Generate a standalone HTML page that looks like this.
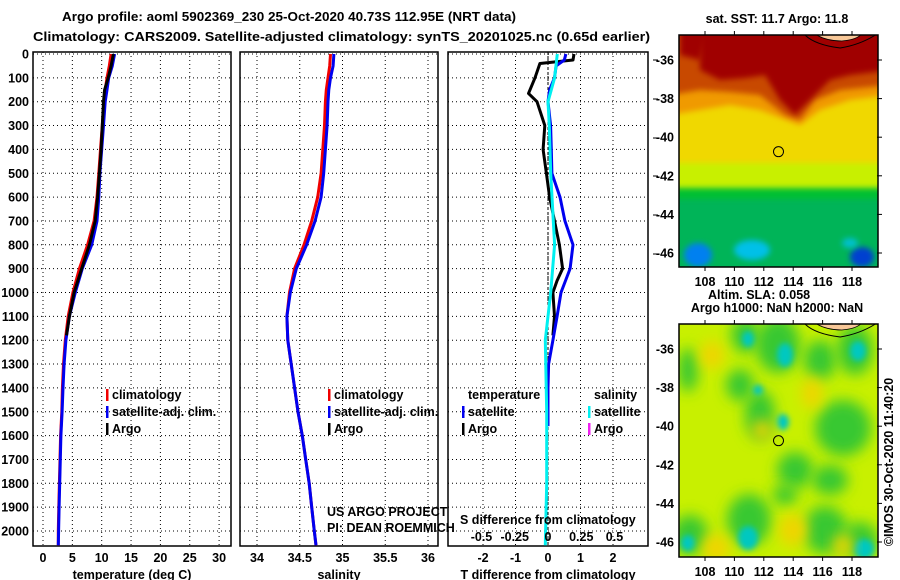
<!DOCTYPE html>
<html><head><meta charset="utf-8"><style>
html,body{margin:0;padding:0;background:#fff}
svg{display:block}
text{font-family:"Liberation Sans",sans-serif;font-weight:bold;font-size:12.5px;fill:#000}
</style></head><body>
<svg id="fig" width="900" height="580" viewBox="0 0 900 580">
<defs>
<filter id="bl" x="-50%" y="-50%" width="200%" height="200%"><feGaussianBlur stdDeviation="7"/></filter>
<filter id="bl2" x="-50%" y="-50%" width="200%" height="200%"><feGaussianBlur stdDeviation="3"/></filter>
<clipPath id="m1c"><rect x="679" y="35" width="199" height="232"/></clipPath>
<clipPath id="m2c"><rect x="679" y="324" width="199" height="233"/></clipPath>
</defs>
<text x="62" y="21" font-size="14" textLength="454" lengthAdjust="spacingAndGlyphs">Argo profile: aoml 5902369_230 25-Oct-2020 40.73S 112.95E (NRT data)</text>
<text x="33" y="41" font-size="14" textLength="617" lengthAdjust="spacingAndGlyphs">Climatology: CARS2009. Satellite-adjusted climatology: synTS_20201025.nc (0.65d earlier)</text>
<g id="panels"></g>
<g id="maps"></g>
</svg>
<script>
// ---- data ----
const depths = [0,50,100,150,200,300,400,500,600,700,800,900,1000,1100,1200,1300,1400,1500,1600,1700,1800,1900,2000,2060];
const tempClim = [11.6,11.3,10.9,10.6,10.4,10.1,9.8,9.5,9.2,8.7,7.6,6.2,5.1,4.3,3.8,3.5,3.3,3.2,3.0,2.9,2.8,2.7,2.6,2.6];
const tempSat = [12.2,11.8,11.2,10.9,10.6,10.3,10.0,9.7,9.5,9.2,8.3,6.7,5.5,4.5,3.9,3.6,3.4,3.25,3.05,2.95,2.85,2.75,2.65,2.6];
const argoDepths = [0,50,100,150,200,300,400,500,600,700,800,900,1000,1100,1180];
const tempArgo = [12.0,11.6,11.1,10.5,10.3,10.1,9.9,9.6,9.3,8.9,7.9,6.6,5.3,4.5,4.0];
const salClim = [34.86,34.85,34.83,34.81,34.80,34.79,34.77,34.75,34.71,34.64,34.55,34.44,34.38,34.35,34.36,34.40,34.44,34.48,34.53,34.57,34.61,34.64,34.67,34.69];
const salSat = [34.90,34.89,34.86,34.84,34.83,34.82,34.80,34.78,34.75,34.68,34.58,34.46,34.39,34.35,34.36,34.40,34.44,34.48,34.53,34.57,34.61,34.64,34.67,34.69];
const tdiffDepths = [0,25,40,100,165,200,300,400,500,600,700,800,900,950,1000,1100,1180];
const tdiffArgo = [0.8,0.77,-0.25,-0.4,-0.6,-0.34,-0.1,-0.15,-0.05,0.05,0.2,0.35,0.45,0.28,0.15,0.2,0.15];
const satDiffDepths = [0,25,50,100,150,200,300,400,500,600,700,800,900,1000,1100,1200,1300,1400,1560];
const tdiffSat = [0.55,0.5,0.25,0.2,0.05,0,0.08,0.1,0.12,0.37,0.52,0.77,0.68,0.4,0.28,0.15,0.02,0.0,0.0];
const sdiffDepths = [0,100,200,300,500,800,1000,1100,1200,1500,1800,2060];
const sdiffSat = [0.07,0.05,0,0.01,0.02,0.05,0.02,0,-0.02,-0.01,-0.01,-0.02];
const depthTicks = [0,100,200,300,400,500,600,700,800,900,1000,1100,1200,1300,1400,1500,1600,1700,1800,1900,2000];
const tempTicks = [0,5,10,15,20,25,30];
const salTicks = [34,34.5,35,35.5,36];
const tdTicks = [-2,-1,0,1,2];
const sdTicks = [-0.5,-0.25,0,0.25,0.5];
const latTicks = [-36,-38,-40,-42,-44,-46];
const lonTicks = [108,110,112,114,116,118];

const NS='http://www.w3.org/2000/svg';
function mk(tag,attrs,parent,txt){const e=document.createElementNS(NS,tag);for(const k in attrs)e.setAttribute(k,attrs[k]);if(txt!==undefined)e.textContent=txt;(parent||document.getElementById('fig')).appendChild(e);return e;}
const Y=d=>54+d*0.2385;
const PT=52, PB=546;
const panelsG=document.getElementById('panels');

function panel(name,x0,x1,sx,ticks,fmt,title){
  const g=mk('g',{},panelsG);
  
  
  depthTicks.forEach(d=>{const l=mk('line',{x1:x0,x2:x1,y1:Y(d),y2:Y(d),stroke:'#000','stroke-width':1,'stroke-dasharray':'1,3'},g);
    
    });
  ticks.forEach(t=>{const l=mk('line',{x1:sx(t),x2:sx(t),y1:PT,y2:PB,stroke:'#000','stroke-width':1,'stroke-dasharray':'1,3'},g);
    
    
    const tx=mk('text',{x:sx(t),y:562,'text-anchor':'middle'},g,fmt(t));
    
    });
  const fr=mk('rect',{x:x0,y:PT,width:x1-x0,height:PB-PT,fill:'none',stroke:'#000','stroke-width':1.5},g);
  
  
  const tt=mk('text',{x:(x0+x1)/2,y:579,'text-anchor':'middle'},g,title);
  
  
  return g;
}
function line(g,xs,ds,sx,color,name){
  const pts=xs.map((v,i)=>sx(v).toFixed(1)+','+Y(ds[i]).toFixed(1)).join(' ');
  const p=mk('polyline',{points:pts,fill:'none',stroke:color,'stroke-width':3,'stroke-linejoin':'round'},g);
  
  
}
function legend(g,x,y,color,label,name){
  const r=mk('rect',{x:x-6,y:y-10,width:2.5,height:12,fill:color},g);
  
  
  if(label){const t=mk('text',{x:x,y:y},g,label);
  
  }
}

depthTicks.forEach(d=>{const t=mk('text',{x:29,y:Y(d)+4.5,'text-anchor':'end'},panelsG,String(d));
  
  });

const sxT=v=>43+v*5.87;
const g1=panel('temperature-panel',33,231,sxT,tempTicks,String,'temperature (deg C)');
line(g1,tempClim,depths,sxT,'#f00000','temp-climatology-line');
line(g1,tempSat,depths,sxT,'#0000f0','temp-satellite-line');
line(g1,tempArgo,argoDepths,sxT,'#000','temp-argo-line');
legend(g1,112,399,'#f00000','climatology','legend-climatology');
legend(g1,112,416,'#0000f0','satellite-adj. clim.','legend-satellite');
legend(g1,112,433,'#000','Argo','legend-argo');

const sxS=v=>257+(v-34)*85.5;
const g2=panel('salinity-panel',240,438,sxS,salTicks,String,'salinity');
line(g2,salClim,depths,sxS,'#f00000','sal-climatology-line');
line(g2,salSat,depths,sxS,'#0000f0','sal-satellite-line');
legend(g2,334,399,'#f00000','climatology','legend-climatology');
legend(g2,334,416,'#0000f0','satellite-adj. clim.','legend-satellite');
legend(g2,334,433,'#000','Argo','legend-argo');
[['US ARGO PROJECT',516],['PI: DEAN ROEMMICH',532]].forEach(([s,y])=>{const t=mk('text',{x:327,y:y,'font-weight':'normal',fill:'#333'},g2,s);
  
  });

const sxD=v=>548+v*32.5;
const sxSD=v=>548+v*133;
const g3=panel('difference-panel',448,648,sxD,tdTicks,String,'T difference from climatology');
const z=mk('line',{x1:548,x2:548,y1:PT,y2:PB,stroke:'#000','stroke-dasharray':'3,2'},g3);


line(g3,tdiffArgo,tdiffDepths,sxD,'#000','tdiff-argo-line');
line(g3,tdiffSat,satDiffDepths,sxD,'#0000f0','tdiff-satellite-line');
line(g3,sdiffSat,sdiffDepths,sxSD,'#00f0f0','sdiff-satellite-line');
const lt=mk('text',{x:468,y:399},g3,'temperature');
const ls=mk('text',{x:594,y:399},g3,'salinity');
legend(g3,468,416,'#0000f0','satellite','legend-t-satellite');
legend(g3,468,433,'#000','Argo','legend-t-argo');
legend(g3,594,416,'#00f0f0','satellite','legend-s-satellite');
legend(g3,594,433,'#f020f0','Argo','legend-s-argo');
const st=mk('text',{x:460,y:524},g3,'S difference from climatology');
sdTicks.forEach(t=>{const e=mk('text',{x:sxSD(t),y:541,'text-anchor':'middle'},g3,String(t));
  
  });
[60,99,138,176,215,254].forEach(y=>{const l=mk('line',{x1:653,x2:658,y1:y,y2:y,stroke:'#000'},g3);
  
  });

const mapsG=document.getElementById('maps');
const lonX=l=>705+(l-108)*14.7;
function map(name,top,clip,draw,title,titleY){
  const g=mk('g',{},mapsG);
  
  
  const latY=l=>top+25+(-36-l)*19.3;
  const inner=mk('g',{'clip-path':'url(#'+clip+')'},g);
  draw(inner,top);
  const c=mk('path',{d:`M${lonX(114.8)},${top} Q${lonX(115.5)},${top+10} ${lonX(117.2)},${top+13} Q${lonX(118.5)},${top+10} ${lonX(119.6)},${top} Z`,fill:'none',stroke:'#000','stroke-width':1},inner);
  
  const c2=mk('path',{d:`M${lonX(115.6)},${top} Q${lonX(116.3)},${top+6} ${lonX(117.3)},${top+6} Q${lonX(118.2)},${top+5} ${lonX(118.6)},${top} Z`,fill:'#f8c898',stroke:'#000','stroke-width':0.8},inner);
  
  const fr=mk('rect',{x:679,y:top,width:199,height:(clip==='m1c'?232:233),fill:'none',stroke:'#000','stroke-width':1.5},g);
  
  const ci=mk('circle',{cx:lonX(113),cy:latY(-40.75),r:5,fill:'none',stroke:'#000','stroke-width':1},g);
  
  latTicks.forEach(l=>{const t=mk('text',{x:674,y:latY(l)+4.5,'text-anchor':'end'},g,String(l));
    
    const tk=mk('line',{x1:877,x2:882,y1:latY(l),y2:latY(l),stroke:'#000'},g);
    });
  const bot=top+(clip==='m1c'?232:233);
  lonTicks.forEach(l=>{const t=mk('text',{x:lonX(l),y:bot+19,'text-anchor':'middle'},g,String(l));
    
    [top-4,bot].forEach(yy=>{const tk=mk('line',{x1:lonX(l),x2:lonX(l),y1:yy,y2:yy+4,stroke:'#000'},g);
    });});
  const tt=mk('text',{x:777,y:titleY,'text-anchor':'middle'},g,title);
  
}
function blob(g,cx,cy,rx,ry,col,f){const e=mk('ellipse',{cx:cx,cy:cy,rx:rx,ry:ry,fill:col,filter:'url(#'+(f||'bl')+')'},g);}

map('sst-map',35,'m1c',(g,t)=>{
  mk('rect',{x:679,y:t,width:199,height:232,fill:'#00b458'},g);
  mk('rect',{x:670,y:t-10,width:220,height:174,fill:'#00c030',filter:'url(#bl2)'},g);
  mk('rect',{x:670,y:t-10,width:220,height:163,fill:'#c8f000',filter:'url(#bl2)'},g);
  mk('rect',{x:670,y:t-10,width:220,height:138,fill:'#f0d800',filter:'url(#bl2)'},g);
  mk('path',{d:'M670,25 L670,115 L700,110 L730,105 L760,110 L800,125 L820,110 L850,100 L890,95 L890,25 Z',fill:'#f09a00',filter:'url(#bl2)'},g);
  mk('path',{d:'M670,25 L670,95 L700,90 L730,92 L760,95 L785,115 L800,120 L815,100 L840,90 L890,85 L890,25 Z',fill:'#c84800',filter:'url(#bl2)'},g);
  mk('path',{d:'M700,25 L700,70 L720,80 L745,78 L765,75 L780,100 L795,115 L810,100 L830,80 L850,75 L890,70 L890,25 Z',fill:'#a00000',filter:'url(#bl2)'},g);
  mk('path',{d:'M680,25 L680,55 L700,60 L710,25 Z',fill:'#a00000',filter:'url(#bl2)'},g);
  blob(g,698,255,14,12,'#0080f0','bl2');blob(g,752,250,18,10,'#00c0e8','bl2');
  blob(g,862,257,12,10,'#0040d0','bl2');blob(g,850,243,8,5,'#00c0d0','bl2');
},'sat. SST: 11.7 Argo: 11.8',23);

const sla=mk('text',{x:708,y:299},mapsG,'Altim. SLA: 0.058');

map('sla-map',324,'m2c',(g,t)=>{
  mk('rect',{x:679,y:t,width:199,height:233,fill:'#c8f000'},g);
  [[745,335,14,18],[688,370,10,22],[778,345,22,28],[820,360,16,20],[855,350,18,25],[760,415,15,25],[740,385,14,16],[843,428,28,28],[795,470,18,18],[690,535,18,20],[749,520,22,26],[785,495,12,10],[825,530,22,24],[860,540,18,18],[830,480,18,15]].forEach(b=>blob(g,b[0],b[1],b[2],b[3],'#38c830'));
  [[748,339,6,8],[785,355,8,12],[858,351,8,10],[758,390,5,5],[783,422,6,8],[748,538,10,12],[688,543,7,8],[864,549,10,10]].forEach(b=>blob(g,b[0],b[1],b[2],b[3],'#00c8c0','bl2'));
  [[712,355,12,14],[812,393,10,16],[716,548,14,14],[793,530,14,16],[843,545,10,10],[762,430,10,10]].forEach(b=>blob(g,b[0],b[1],b[2],b[3],'#f0d400'));
},'Argo h1000: NaN h2000: NaN',312);

const imos=mk('text',{x:0,y:0,transform:'translate(893,462) rotate(-90)','text-anchor':'middle','font-weight':'normal','font-size':'12.5'},mapsG,'©IMOS 30-Oct-2020 11:40:20');

</script>
</body></html>
